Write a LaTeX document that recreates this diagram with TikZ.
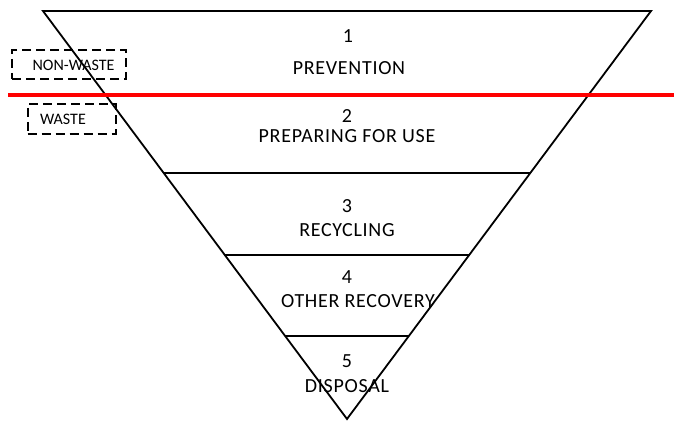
\documentclass[tikz,border=0pt]{standalone}
\usepackage{fontspec}
\setmainfont{Carlito}[LetterSpace=3.5]
\newfontfamily\tagfont{Carlito}
\begin{document}
\begin{tikzpicture}[x=1pt,y=-1pt,
  tier/.style={line width=1.8pt,black},
  lbl/.style={anchor=base,inner sep=0pt,font=\fontsize{20}{24}\selectfont},
  tagbox/.style={draw,line width=1.6pt,dash pattern=on 9pt off 5pt,inner sep=0pt},
  tagtext/.style={anchor=base,inner sep=0pt,font=\tagfont\fontsize{16}{19}\selectfont}]
\useasboundingbox (0,0) rectangle (674,422);
% inverted pyramid outline
\coordinate (tl) at (43,11);
\coordinate (tr) at (651,11);
\coordinate (ap) at (347,419);
\draw[tier,line join=miter] (tl) -- (tr) -- (ap) -- cycle;
% tier dividers
\draw[tier] (163,173) -- (531,173);
\draw[tier] (225,255) -- (469,255);
\draw[tier] (285,336) -- (409,336);
% waste boundary
\draw[red,line width=3.6pt] (8,95) -- (674,95);
% labels
\node[lbl] (n1) at (348,43) {1};
\node[lbl] (t1) at (349,75) {PREVENTION};
\node[lbl] (n2) at (347,123) {2};
\node[lbl] (t2) at (347,143) {PREPARING FOR USE};
\node[lbl] (n3) at (347,212) {3};
\node[lbl] (t3) at (347,236) {RECYCLING};
\node[lbl] (n4) at (347,283) {4};
\node[lbl] (t4) at (358,307) {OTHER RECOVERY};
\node[lbl] (n5) at (347,367) {5};
\node[lbl] (t5) at (347,392) {DISPOSAL};
% classification tags
\node[tagbox,minimum width=114pt,minimum height=29pt] (nwbox) at (69,64.5) {};
\node[tagtext] (nw) at (73.5,71) {NON-WASTE};
\node[tagbox,minimum width=88pt,minimum height=30pt] (wbox) at (71.7,119) {};
\node[tagtext] (w) at (63,125) {WASTE};
\end{tikzpicture}
\end{document}
